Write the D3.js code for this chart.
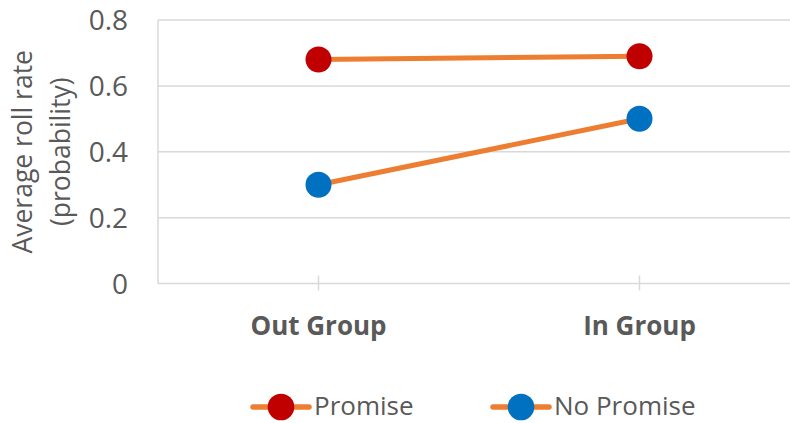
<!DOCTYPE html>
<html>
<head>
<meta charset="utf-8">
<script src="https://cdn.jsdelivr.net/npm/d3@7"></script>
<style>
  html, body { margin: 0; padding: 0; background: #fff; }
  svg { display: block; font-family: "Open Sans", sans-serif; }
</style>
</head>
<body>
<svg id="chart" width="790" height="423"></svg>
<script>
// Chart data
const categories = ["Out Group", "In Group"];
const promiseValues = [0.68, 0.69];
const noPromiseValues = [0.30, 0.50];
const yTickValues = [0, 0.2, 0.4, 0.6, 0.8];
const seriesNames = ["Promise", "No Promise"];
const yTitleLines = ["Average roll rate", "(probability)"];

const series = [
  { name: seriesNames[0], values: promiseValues, marker: "#C00000" },
  { name: seriesNames[1], values: noPromiseValues, marker: "#0070C0" }
];

const plot = { left: 158, right: 800, top: 20, bottom: 283.5 };
const lineColor = "#ED7D31";
const gridColor = "#d9d9d9";
const textColor = "#595959";

const svg = d3.select("#chart");

const x = d3.scalePoint().domain(categories).range([plot.left, plot.right]).padding(0.5);
const y = d3.scaleLinear().domain([0, 0.8]).range([plot.bottom, plot.top]);

// Horizontal gridlines
svg.append("g").selectAll("line").data(yTickValues.filter(d => d > 0)).join("line")
  .attr("x1", plot.left).attr("x2", plot.right)
  .attr("y1", d => y(d)).attr("y2", d => y(d))
  .attr("stroke", gridColor).attr("stroke-width", 1.5);

// Vertical axis line
svg.append("line")
  .attr("x1", plot.left).attr("x2", plot.left)
  .attr("y1", y(0.8)).attr("y2", y(0))
  .attr("stroke", gridColor).attr("stroke-width", 1.5);

// Category axis baseline and ticks
svg.append("line")
  .attr("x1", plot.left).attr("x2", plot.right)
  .attr("y1", y(0)).attr("y2", y(0))
  .attr("stroke", gridColor).attr("stroke-width", 1.5);
svg.append("g").selectAll("line").data(categories).join("line")
  .attr("x1", d => x(d)).attr("x2", d => x(d))
  .attr("y1", y(0) - 8).attr("y2", y(0) + 7)
  .attr("stroke", gridColor).attr("stroke-width", 1.5);

// Y tick labels
const fmt = d => d === 0 ? "0" : d3.format(".1f")(d);
svg.append("g").selectAll("text").data(yTickValues).join("text")
  .attr("x", 128).attr("y", d => y(d))
  .attr("dy", "0.36em")
  .attr("text-anchor", "end")
  .attr("font-size", 28)
  .attr("fill", textColor)
  .text(fmt);

// Category labels
svg.append("g").selectAll("text").data(categories).join("text")
  .attr("x", d => x(d)).attr("y", 335)
  .attr("text-anchor", "middle")
  .attr("font-size", 26)
  .attr("font-weight", "bold")
  .attr("fill", textColor)
  .text(d => d);

// Y axis title (two lines, rotated)
const titleCy = (plot.top + plot.bottom) / 2;
const title = svg.append("g").attr("transform", `translate(0,${titleCy}) rotate(-90)`);
title.selectAll("text").data(yTitleLines).join("text")
  .attr("x", 0)
  .attr("y", (d, i) => i === 0 ? 32 : 70)
  .attr("text-anchor", "middle")
  .attr("font-size", 26.5)
  .attr("fill", textColor)
  .text(d => d);

// Series lines and markers
const line = d3.line().x((d, i) => x(categories[i])).y(d => y(d));
series.forEach(s => {
  svg.append("path")
    .attr("d", line(s.values))
    .attr("fill", "none")
    .attr("stroke", lineColor)
    .attr("stroke-width", 5);
  svg.append("g").selectAll("circle").data(s.values).join("circle")
    .attr("cx", (d, i) => x(categories[i]))
    .attr("cy", d => y(d))
    .attr("r", 13)
    .attr("fill", s.marker);
});

// Legend
const legendItems = [
  { s: series[0], x0: 253 },
  { s: series[1], x0: 493 }
];
const ly = 407;
const lg = svg.append("g");
legendItems.forEach(it => {
  lg.append("line")
    .attr("x1", it.x0).attr("x2", it.x0 + 56)
    .attr("y1", ly).attr("y2", ly)
    .attr("stroke", lineColor).attr("stroke-width", 5.5)
    .attr("stroke-linecap", "round");
  lg.append("circle")
    .attr("cx", it.x0 + 28).attr("cy", ly).attr("r", 13.3)
    .attr("fill", it.s.marker);
  lg.append("text")
    .attr("x", it.x0 + 61).attr("y", 415)
    .attr("font-size", 26)
    .attr("fill", textColor)
    .text(it.s.name);
});
</script>
</body>
</html>
